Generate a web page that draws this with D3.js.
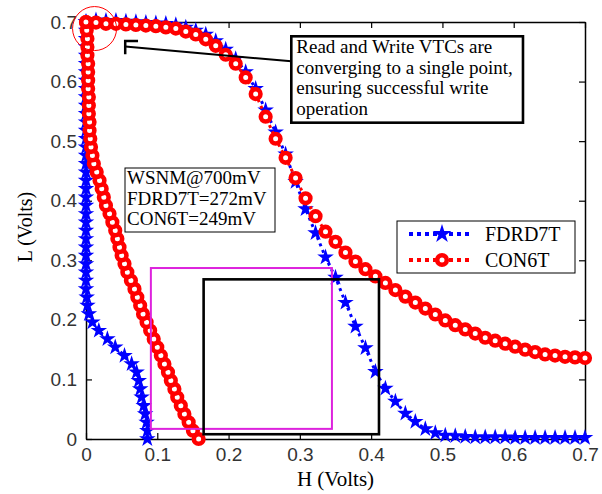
<!DOCTYPE html>
<html>
<head>
<meta charset="utf-8">
<script src="https://cdn.jsdelivr.net/npm/d3@7"></script>
<style>
body { margin: 0; background: #fff; }
svg text { font-family: "Liberation Serif", "Times New Roman", serif; }
.tick text { font-family: "Liberation Sans", Arial, sans-serif; }
</style>
</head>
<body>
<svg id="chart" width="602" height="494"></svg>
<script>
// sweep voltage (same steps for both VTC halves)
const sweep = [0, 0.014, 0.028, 0.042, 0.056, 0.07, 0.084, 0.098, 0.112, 0.126,
  0.14, 0.154, 0.168, 0.182, 0.196, 0.21, 0.224, 0.238, 0.252, 0.266,
  0.28, 0.294, 0.308, 0.322, 0.336, 0.35, 0.364, 0.378, 0.392, 0.406,
  0.42, 0.434, 0.448, 0.462, 0.476, 0.49, 0.504, 0.518, 0.532, 0.546,
  0.56, 0.574, 0.588, 0.602, 0.616, 0.63, 0.644, 0.658, 0.672, 0.686, 0.7]

const fdrdL = [0.700, 0.703, 0.702, 0.702, 0.701, 0.700, 0.699, 0.698, 0.697, 0.695,
  0.691, 0.686, 0.679, 0.668, 0.654, 0.638, 0.616, 0.588, 0.552, 0.515,
  0.478, 0.432, 0.386, 0.346, 0.305, 0.271, 0.229, 0.189, 0.153, 0.113,
  0.085, 0.063, 0.043, 0.029, 0.017, 0.010, 0.006, 0.005, 0.004, 0.003,
  0.003, 0.003, 0.003, 0.002, 0.002, 0.002, 0.002, 0.002, 0.002, 0.002, 0.002]
const fdrdH = [0.086, 0.086, 0.085, 0.083, 0.081, 0.078, 0.076, 0.074, 0.071, 0.064,
  0.054, 0.041, 0.030, 0.018, 0.009, 0.004, 0.002, 0.001, 0, 0,
  0, 0, 0, 0, 0, 0, 0, 0, 0, 0,
  0, 0, 0, 0, 0, 0, 0, 0, 0, 0,
  0, 0, 0, 0, 0, 0, 0, 0, 0, 0, 0]

// CON6T
const con6L = [0.700, 0.699, 0.697, 0.697, 0.696, 0.695, 0.694, 0.693, 0.691, 0.689,
  0.684, 0.679, 0.671, 0.660, 0.645, 0.630, 0.607, 0.579, 0.541, 0.504,
  0.472, 0.438, 0.404, 0.374, 0.348, 0.331, 0.313, 0.298, 0.285, 0.273,
  0.262, 0.250, 0.239, 0.229, 0.219, 0.209, 0.199, 0.191, 0.184, 0.177,
  0.170, 0.165, 0.160, 0.155, 0.150, 0.146, 0.142, 0.140, 0.138, 0.137, 0.136]
const con6H = [0.158, 0.150, 0.144, 0.138, 0.133, 0.128, 0.124, 0.119, 0.115, 0.110,
  0.105, 0.100, 0.095, 0.090, 0.085, 0.080, 0.076, 0.072, 0.068, 0.063,
  0.058, 0.054, 0.050, 0.047, 0.044, 0.041, 0.037, 0.033, 0.028, 0.025,
  0.022, 0.019, 0.015, 0.011, 0.009, 0.007, 0.006, 0.005, 0.005, 0.004,
  0.004, 0.004, 0.003, 0.003, 0.003, 0.003, 0.002, 0.002, 0.002, 0.001, 0.000]

// noise margin squares [x0, y0, x1, y1]
const fdrdSquare = [0.165, 0.008, 0.411, 0.268]
const con6Square = [0.091, 0.017, 0.345, 0.287]

const tickVals = [0, 0.1, 0.2, 0.3, 0.4, 0.5, 0.6, 0.7]
const tickLabels = ["0", "0.1", "0.2", "0.3", "0.4", "0.5", "0.6", "0.7"]

const seriesNames = ["FDRD7T", "CON6T"]
const noteLines = ["Read and Write VTCs are", "converging to a single point,",
  "ensuring successful write", "operation"]
const snmLines = ["WSNM@700mV", "FDRD7T=272mV", "CON6T=249mV"]

const svg = d3.select("#chart")
const x = d3.scaleLinear().domain([0, 0.7]).range([86, 585])
const y = d3.scaleLinear().domain([0, 0.7]).range([439, 22])

// axes, matlab style: ticks inside on all four sides
function styleAxis(g) {
  g.select(".domain").attr("stroke", "#000").attr("stroke-width", 1.5)
  g.selectAll(".tick line").attr("stroke", "#000").attr("stroke-width", 1.2)
  g.selectAll(".tick text").attr("fill", "#333").style("font-size", "19px")
}
svg.append("g").attr("transform", "translate(0,439)")
  .call(d3.axisBottom(x).tickValues(tickVals).tickFormat((d, i) => tickLabels[i])
    .tickSizeInner(-6).tickSizeOuter(0).tickPadding(9))
  .call(styleAxis)
svg.append("g").attr("transform", "translate(86,0)")
  .call(d3.axisLeft(y).tickValues(tickVals).tickFormat((d, i) => tickLabels[i])
    .tickSizeInner(-6).tickSizeOuter(0).tickPadding(9))
  .call(styleAxis)
svg.append("g").attr("transform", "translate(0,22)")
  .call(d3.axisTop(x).tickValues(tickVals).tickFormat("").tickSizeInner(-6).tickSizeOuter(0))
  .call(styleAxis)
svg.append("g").attr("transform", "translate(585,0)")
  .call(d3.axisRight(y).tickValues(tickVals).tickFormat("").tickSizeInner(-6).tickSizeOuter(0))
  .call(styleAxis)

svg.append("text").attr("x", (x(0) + x(0.7)) / 2).attr("y", 486)
  .attr("text-anchor", "middle").style("font-size", "21px").text("H (Volts)")
svg.append("text").attr("transform", "translate(32,227) rotate(-90)")
  .attr("text-anchor", "middle").style("font-size", "20px").text("L (Volts)")

// curves
const line = d3.line().x(d => x(d[0])).y(d => y(d[1]))
const fdrdA = sweep.map((s, i) => [s, fdrdL[i]])
const fdrdB = sweep.map((s, i) => [fdrdH[i], s])
const con6A = sweep.map((s, i) => [s, con6L[i]])
const con6B = sweep.map((s, i) => [con6H[i], s])

const star = d3.symbol(d3.symbolStar, 85)

function drawFdrd(pts) {
  svg.append("path").attr("d", line(pts)).attr("fill", "none")
    .attr("stroke", "#0000ff").attr("stroke-width", 3).attr("stroke-dasharray", "3,4")
  svg.append("g").selectAll("path").data(pts).enter().append("path")
    .attr("d", star).attr("fill", "#0000ff")
    .attr("transform", d => `translate(${x(d[0])},${y(d[1])})`)
}
function drawCon6(pts) {
  svg.append("path").attr("d", line(pts)).attr("fill", "none")
    .attr("stroke", "#ff0000").attr("stroke-width", 3).attr("stroke-dasharray", "3,4")
  svg.append("g").selectAll("circle").data(pts).enter().append("circle")
    .attr("cx", d => x(d[0])).attr("cy", d => y(d[1])).attr("r", 4.8)
    .attr("fill", "#fff").attr("stroke", "#ff0000").attr("stroke-width", 4.6)
}
drawFdrd(fdrdB)
drawFdrd(fdrdA)
drawCon6(con6B)
drawCon6(con6A)

// noise margin squares
svg.append("rect").attr("x", x(con6Square[0])).attr("y", y(con6Square[3]))
  .attr("width", x(con6Square[2]) - x(con6Square[0])).attr("height", y(con6Square[1]) - y(con6Square[3]))
  .attr("fill", "none").attr("stroke", "#dd22dd").attr("stroke-width", 2)
svg.append("rect").attr("x", x(fdrdSquare[0])).attr("y", y(fdrdSquare[3]))
  .attr("width", x(fdrdSquare[2]) - x(fdrdSquare[0])).attr("height", y(fdrdSquare[1]) - y(fdrdSquare[3]))
  .attr("fill", "none").attr("stroke", "#000").attr("stroke-width", 2.6)

// convergence circle + callout
svg.append("circle").attr("cx", x(0.012)).attr("cy", y(0.689)).attr("r", 22)
  .attr("fill", "none").attr("stroke", "#ff0000").attr("stroke-width", 1)
svg.append("path")
  .attr("d", `M${x(0.073)},${y(0.668)}H${x(0.055)}V${y(0.646)}`)
  .attr("fill", "none").attr("stroke", "#000").attr("stroke-width", 2.5)
svg.append("line").attr("x1", x(0.055)).attr("y1", y(0.659)).attr("x2", x(0.288)).attr("y2", y(0.634))
  .attr("stroke", "#000").attr("stroke-width", 2)

const nb = { x0: x(0.288), x1: x(0.613), y0: y(0.676), y1: y(0.531) }
svg.append("rect").attr("x", nb.x0).attr("y", nb.y0).attr("width", nb.x1 - nb.x0).attr("height", nb.y1 - nb.y0)
  .attr("fill", "#fff").attr("stroke", "#000").attr("stroke-width", 2.6)
svg.append("g").selectAll("text").data(noteLines).enter().append("text")
  .attr("x", nb.x0 + 5).attr("y", (d, i) => nb.y0 + 17 + i * 20.5)
  .style("font-size", "19px").text(d => d)

// WSNM box
svg.append("rect").attr("x", 125).attr("y", 168).attr("width", 150).attr("height", 64)
  .attr("fill", "#fff").attr("stroke", "#000").attr("stroke-width", 1)
svg.append("g").selectAll("text").data(snmLines).enter().append("text")
  .attr("x", 127).attr("y", (d, i) => 184 + i * 20.5)
  .style("font-size", "19px").text(d => d)

// legend
const lg = svg.append("g").attr("transform", "translate(397,221)")
lg.append("rect").attr("width", 178).attr("height", 52).attr("fill", "#fff")
  .attr("stroke", "#000").attr("stroke-width", 1)
const rows = [13, 39]
rows.forEach((ry, i) => {
  const col = i == 0 ? "#0000ff" : "#ff0000"
  lg.append("line").attr("x1", 12).attr("x2", 76).attr("y1", ry).attr("y2", ry)
    .attr("stroke", col).attr("stroke-width", 4).attr("stroke-dasharray", "4,4")
  if (i == 0) {
    lg.append("path").attr("d", d3.symbol(d3.symbolStar, 110)())
      .attr("transform", `translate(45,${ry})`).attr("fill", col)
  } else {
    lg.append("circle").attr("cx", 45).attr("cy", ry).attr("r", 4.8)
      .attr("fill", "#fff").attr("stroke", col).attr("stroke-width", 4.6)
  }
  lg.append("text").attr("x", 88).attr("y", ry + 7).style("font-size", "20px").text(seriesNames[i])
})
</script>
</body>
</html>
